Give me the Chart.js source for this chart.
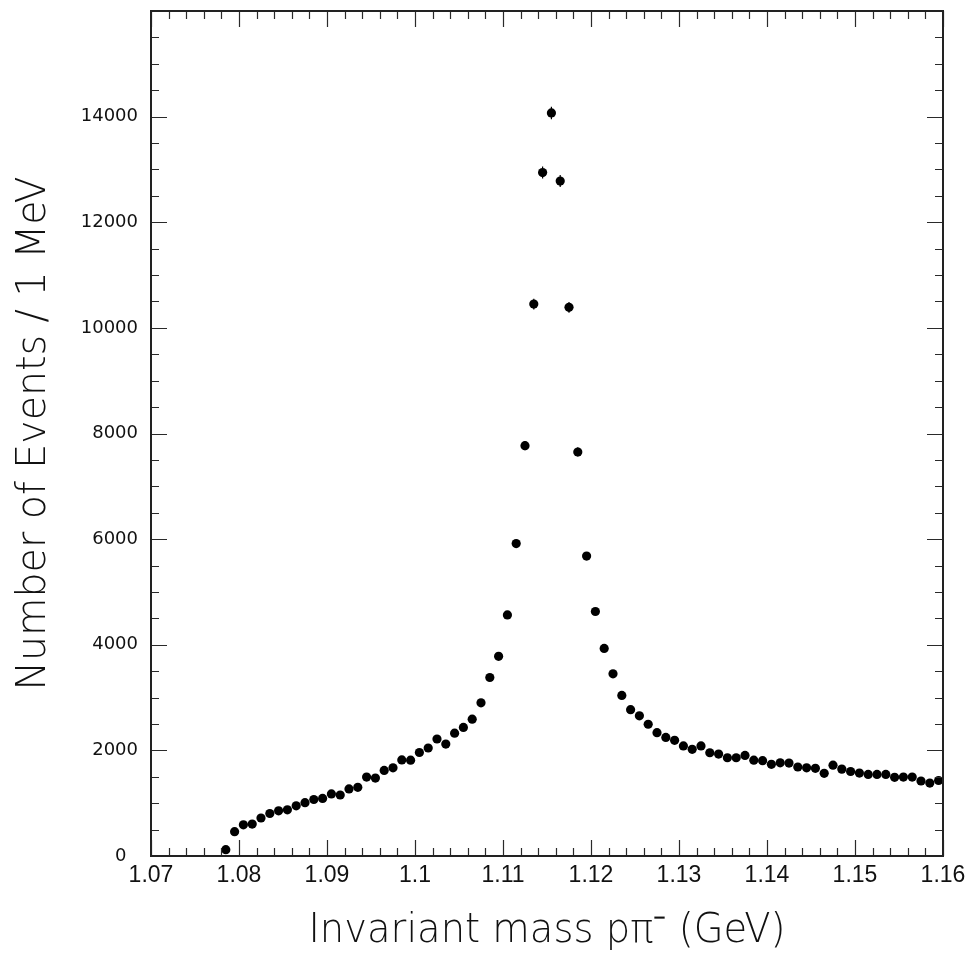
<!DOCTYPE html>
<html>
<head>
<meta charset="utf-8">
<script src="https://cdn.jsdelivr.net/npm/chart.js@4"></script>
<style>
  html, body { margin: 0; padding: 0; background: #ffffff; }
  #wrap { width: 974px; height: 957px; }
</style>
</head>
<body>
<div id="wrap"><canvas id="c" width="974" height="957"></canvas></div>
<script>
// ---- data ----
const massBins = [
  1.0785, 1.0795, 1.0805, 1.0815, 1.0825, 1.0835, 1.0845, 1.0855, 1.0865, 1.0875,
  1.0885, 1.0895, 1.0905, 1.0915, 1.0925, 1.0935, 1.0945, 1.0955, 1.0965, 1.0975,
  1.0985, 1.0995, 1.1005, 1.1015, 1.1025, 1.1035, 1.1045, 1.1055, 1.1065, 1.1075,
  1.1085, 1.1095, 1.1105, 1.1115, 1.1125, 1.1135, 1.1145, 1.1155, 1.1165, 1.1175,
  1.1185, 1.1195, 1.1205, 1.1215, 1.1225, 1.1235, 1.1245, 1.1255, 1.1265, 1.1275,
  1.1285, 1.1295, 1.1305, 1.1315, 1.1325, 1.1335, 1.1345, 1.1355, 1.1365, 1.1375,
  1.1385, 1.1395, 1.1405, 1.1415, 1.1425, 1.1435, 1.1445, 1.1455, 1.1465, 1.1475,
  1.1485, 1.1495, 1.1505, 1.1515, 1.1525, 1.1535, 1.1545, 1.1555, 1.1565, 1.1575,
  1.1585, 1.1595
];
const eventCounts = [
  120, 460, 590, 605, 720, 805, 855, 875, 950, 1010,
  1070, 1090, 1175, 1155, 1270, 1300, 1495, 1475, 1620, 1670,
  1820, 1815, 1960, 2045, 2215, 2120, 2325, 2435, 2590, 2900,
  3380, 3780, 4565, 5915, 7770, 10450, 12940, 14070, 12780, 10390,
  7650, 5680, 4630, 3930, 3450, 3040, 2770, 2655, 2495, 2335,
  2245, 2190, 2085, 2020, 2085, 1955, 1930, 1860, 1860, 1905,
  1815, 1805, 1735, 1765, 1760, 1685, 1670, 1660, 1565, 1720,
  1645, 1600, 1570, 1545, 1545, 1545, 1490, 1495, 1495, 1420,
  1380, 1430
];
const xTickValues = [1.07, 1.08, 1.09, 1.10, 1.11, 1.12, 1.13, 1.14, 1.15, 1.16];
const xTickLabels = ['1.07', '1.08', '1.09', '1.1', '1.11', '1.12', '1.13', '1.14', '1.15', '1.16'];
const yTickValues = [0, 2000, 4000, 6000, 8000, 10000, 12000, 14000];
const yTickLabels = ['0  ', '2000', '4000', '6000', '8000', '10000', '12000', '14000'];
const xTitle = 'Invariant mass p\u03C0\u207B (GeV)';
const yTitle = 'Number of Events / 1 MeV';

const X_MIN = 1.07, X_MAX = 1.16, X_MINOR = 0.002;
const Y_MIN = 0, Y_MAX = 16000, Y_MINOR = 500;

const points = massBins.map((m, i) => ({ x: m, y: eventCounts[i] }));

// frame + inward ticks on all four sides, axis titles
const framePlugin = {
  id: 'frame',
  afterDraw(chart) {
    const { ctx, chartArea: a, scales } = chart;
    const xs = scales.x, ys = scales.y;
    ctx.save();
    ctx.strokeStyle = '#2a2a2a';
    ctx.lineWidth = 1.2;
    const nx = Math.round((X_MAX - X_MIN) / X_MINOR);
    for (let i = 0; i <= nx; i++) {
      const v = X_MIN + i * X_MINOR;
      const px = Math.round(xs.getPixelForValue(v)) + 0.5;
      const major = (i % 5 === 0);
      const len = major ? 16 : 8;
      ctx.beginPath();
      ctx.moveTo(px, a.bottom); ctx.lineTo(px, a.bottom - len);
      ctx.moveTo(px, a.top); ctx.lineTo(px, a.top + len);
      ctx.stroke();
    }
    const ny = Math.round((Y_MAX - Y_MIN) / Y_MINOR);
    for (let i = 0; i <= ny; i++) {
      const v = Y_MIN + i * Y_MINOR;
      const py = Math.round(ys.getPixelForValue(v)) + 0.5;
      const major = (i % 4 === 0);
      const len = major ? 16 : 8;
      ctx.beginPath();
      ctx.moveTo(a.left, py); ctx.lineTo(a.left + len, py);
      ctx.moveTo(a.right, py); ctx.lineTo(a.right - len, py);
      ctx.stroke();
    }
    ctx.lineWidth = 2;
    ctx.strokeStyle = '#222';
    ctx.strokeRect(a.left, a.top, a.right - a.left, a.bottom - a.top);

    ctx.fillStyle = '#111';
    ctx.font = '300 41px "DejaVu Sans", sans-serif';
    ctx.textBaseline = 'alphabetic';
    ctx.textAlign = 'left';
    let w = ctx.measureText(xTitle).width;
    let target = 477;
    ctx.save();
    ctx.translate((a.left + a.right) / 2 - target / 2, 942);
    ctx.scale(target / w, 1);
    ctx.fillText(xTitle, 0, 0);
    ctx.restore();
    w = ctx.measureText(yTitle).width;
    target = 514;
    ctx.save();
    ctx.translate(45, (a.top + a.bottom) / 2 + target / 2);
    ctx.rotate(-Math.PI / 2);
    ctx.scale(target / w, 1);
    ctx.fillText(yTitle, 0, 0);
    ctx.restore();
    ctx.restore();
  }
};

// Poisson error bars (sqrt N)
const errorBarPlugin = {
  id: 'errbars',
  afterDatasetsDraw(chart) {
    const { ctx, scales } = chart;
    ctx.save();
    ctx.strokeStyle = '#000';
    ctx.lineWidth = 1.2;
    points.forEach(p => {
      const e = Math.sqrt(p.y);
      const px = scales.x.getPixelForValue(p.x);
      ctx.beginPath();
      ctx.moveTo(px, scales.y.getPixelForValue(p.y - e));
      ctx.lineTo(px, scales.y.getPixelForValue(p.y + e));
      ctx.stroke();
    });
    ctx.restore();
  }
};

new Chart(document.getElementById('c'), {
  type: 'scatter',
  data: {
    datasets: [{
      data: points,
      backgroundColor: '#000',
      borderColor: '#000',
      borderWidth: 0,
      pointRadius: 4.6,
      pointHoverRadius: 4.6
    }]
  },
  options: {
    responsive: false,
    animation: false,
    events: [],
    layout: { padding: { left: 0, right: 31, top: 11, bottom: 0 } },
    plugins: { legend: { display: false }, tooltip: { enabled: false } },
    scales: {
      x: {
        type: 'linear',
        min: X_MIN, max: X_MAX,
        grid: { display: false, drawTicks: false },
        border: { display: false },
        afterBuildTicks(s) { s.ticks = xTickValues.map(v => ({ value: v })); },
        afterFit(s) { s.height = 101; s.paddingLeft = 0; s.paddingRight = 0; },
        ticks: {
          autoSkip: false,
          maxRotation: 0,
          padding: 6,
          color: '#111',
          font: { family: '"Liberation Sans", Arial, sans-serif', size: 23 },
          callback(v, i) { return xTickLabels[i]; }
        }
      },
      y: {
        type: 'linear',
        min: Y_MIN, max: Y_MAX,
        grid: { display: false, drawTicks: false },
        border: { display: false },
        afterBuildTicks(s) { s.ticks = yTickValues.map(v => ({ value: v })); },
        afterFit(s) { s.width = 151; s.paddingTop = 0; s.paddingBottom = 0; },
        ticks: {
          autoSkip: false,
          padding: 13,
          color: '#111',
          font: { family: '"DejaVu Sans", sans-serif', size: 18 },
          callback(v, i) { return yTickLabels[i]; }
        }
      }
    }
  },
  plugins: [framePlugin, errorBarPlugin]
});
</script>
</body>
</html>
